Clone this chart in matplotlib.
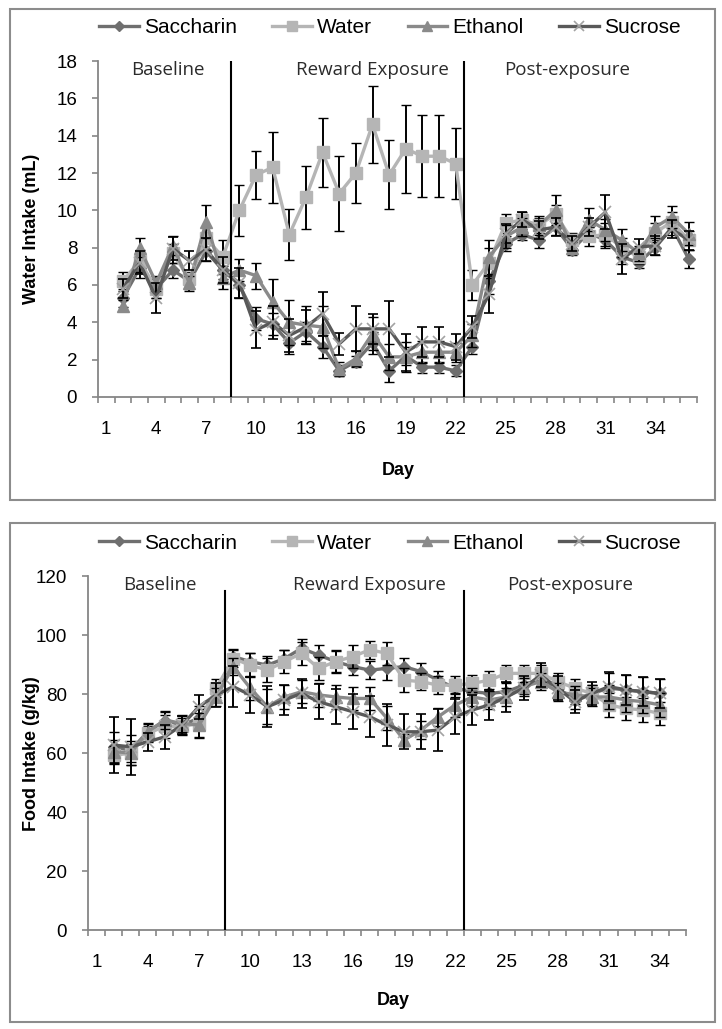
import numpy as np
import matplotlib
matplotlib.use("Agg")
import matplotlib.pyplot as plt
from matplotlib.patches import Rectangle

plt.rcParams['font.family'] = ['Liberation Sans', 'DejaVu Sans']

# --- data: water intake (mL), days 2..36 ---
days_w = np.arange(2, 37)
sac_w = [5.3, 6.9, 5.8, 6.8, 6.2, 7.8, 6.8, 6.0, 4.2, 3.9, 2.9, 3.5, 2.7, 1.4, 1.9,
         2.9, 1.4, 2.2, 1.6, 1.6, 1.4, 2.7, 6.2, 8.2, 8.7, 8.4, 9.1, 7.9, 8.8, 8.4,
         7.5, 7.2, 8.0, 9.1, 7.4]
wat_w = [6.2, 7.3, 5.8, 7.7, 6.3, 8.5, 7.5, 10.0, 11.9, 12.3, 8.7, 10.7, 13.1, 10.9, 12.0,
         14.6, 11.9, 13.3, 12.9, 12.9, 12.5, 6.0, 7.2, 9.3, 9.5, 9.2, 9.8, 8.4, 8.6, 8.7,
         8.0, 7.5, 8.8, 9.4, 8.4]
eth_w = [4.9, 8.0, 6.1, 8.1, 6.1, 9.4, 6.4, 6.8, 6.5, 5.1, 4.0, 3.85, 3.75, 1.5, 2.05,
         3.4, 2.15, 2.15, 2.4, 2.4, 2.4, 3.3, 7.5, 8.6, 9.1, 9.2, 10.0, 8.0, 9.5, 8.95,
         8.4, 7.7, 9.1, 9.65, 8.75]
suc_w = [5.8, 7.2, 5.3, 7.95, 7.3, 7.9, 6.8, 6.1, 3.6, 4.0, 3.3, 3.75, 4.45, 2.85, 3.65,
         3.65, 3.65, 2.4, 2.95, 2.95, 2.7, 3.75, 5.5, 8.75, 9.5, 8.95, 9.1, 8.2, 9.1, 9.9,
         7.4, 8.05, 8.1, 9.0, 8.4]
sac_w_se = [0.5, 0.5, 0.5, 0.4, 0.4, 0.5, 0.5, 0.7, 0.6, 0.6, 0.6, 0.5, 0.6, 0.3, 0.3,
            0.6, 0.6, 0.5, 0.3, 0.3, 0.3, 0.4, 0.7, 0.4, 0.3, 0.4, 0.4, 0.3, 0.3, 0.4,
            0.4, 0.3, 0.4, 0.4, 0.5]
wat_w_se = [0.5, 0.6, 0.5, 0.5, 0.4, 0.6, 0.9, 1.35, 1.3, 1.9, 1.35, 1.7, 1.85, 2.0, 1.6,
            2.05, 1.85, 2.35, 2.2, 2.2, 1.9, 0.8, 0.8, 0.5, 0.4, 0.4, 0.5, 0.4, 0.5, 0.6,
            0.5, 0.4, 0.5, 0.5, 0.5]
eth_w_se = [0.3, 0.5, 0.4, 0.5, 0.4, 0.9, 0.6, 0.6, 0.7, 1.2, 1.2, 1.0, 1.1, 0.4, 0.4,
            0.9, 0.7, 0.8, 0.6, 0.6, 0.5, 0.6, 0.9, 0.6, 0.5, 0.5, 0.8, 0.3, 0.6, 0.6,
            0.6, 0.4, 0.6, 0.6, 0.6]
suc_w_se = [0.5, 0.6, 0.8, 0.6, 0.5, 0.6, 0.7, 0.8, 1.0, 0.9, 0.9, 0.9, 1.2, 0.6, 1.2,
            0.8, 1.5, 1.0, 0.8, 0.8, 0.7, 0.6, 1.0, 0.5, 0.4, 0.5, 0.5, 0.4, 0.5, 0.9,
            0.8, 0.4, 0.5, 0.5, 0.5]

# --- data: food intake (g/kg), days 2..34 ---
days_f = np.arange(2, 35)
sac_f = [62, 61, 67.2, 71, 69.5, 71.8, 80.2, 92.7, 91, 89.8, 92, 95.5, 93.2, 91, 89.3,
         88.1, 88.7, 89.3, 87.6, 84.7, 82, 80.8, 80.2, 80.8, 83, 85.3, 82, 78, 80.2,
         82, 81.4, 80.8, 80.2]
wat_f = [59.3, 59.9, 66.7, 69, 69, 70, 82, 92, 89.8, 88.1, 91, 93.8, 88.7, 91, 92.7,
         95, 93.8, 84.7, 84.2, 83, 83, 83.6, 84.7, 87, 87, 87, 84.2, 82, 80.2,
         76.3, 75.1, 74.6, 73.4]
eth_f = [60.5, 60, 67.2, 71.2, 70, 69.5, 79, 89.3, 82, 75.7, 79, 80.8, 79.7, 79, 78.5,
         78.5, 71.8, 64.4, 67.8, 72.3, 76.3, 79, 78, 79, 82.5, 84.2, 80.8, 79.7, 79,
         79, 78, 77.4, 76.3]
suc_f = [62.7, 62.1, 63.8, 65.5, 69.5, 75.7, 79.7, 82.5, 79.7, 75.7, 78, 80.2, 77.4, 75.7, 74,
         72.3, 69.5, 67.2, 67.2, 67.8, 72.3, 74.6, 76.3, 79, 82, 86.4, 82, 77.4, 80.2,
         82.5, 81.4, 80.8, 80.2]
sac_f_se = [5, 5, 2, 3, 3, 4, 3, 2.5, 3, 3, 3, 3, 3.5, 3.5, 3, 3, 4, 3, 3, 3, 3, 3,
            3, 3, 3, 3, 3, 3, 3, 5, 5, 5, 5]
wat_f_se = [3, 3, 3, 4, 3, 5, 3, 3, 4, 4, 4, 4, 4, 4, 4, 3, 4, 4, 3, 3, 3, 3, 3, 3, 3,
            3, 3, 3, 3, 4, 4, 4, 4]
eth_f_se = [4, 4, 3, 3, 3, 4, 3, 3, 4, 6, 4, 4, 4, 4, 4, 4, 4, 2, 3, 3, 4, 3, 3, 3, 3,
            3, 3, 3, 3, 4, 4, 4, 4]
suc_f_se = [9.5, 9.5, 3, 4, 3, 4, 4, 7, 6, 7, 5, 5, 6, 6, 6, 7, 7, 6, 6, 7, 6, 5, 5, 5,
            4, 4, 4, 4, 4, 5, 5, 5, 5]

names = ["Saccharin", "Water", "Ethanol", "Sucrose"]
phases = ["Baseline", "Reward Exposure", "Post-exposure"]

STYLE = {
    "Saccharin": dict(color="#6f6f6f", marker="D", ms=6.5, mfc="#6f6f6f", mec="#6f6f6f", mew=1),
    "Water":     dict(color="#b5b5b5", marker="s", ms=9, mfc="#b5b5b5", mec="#b5b5b5", mew=1),
    "Ethanol":   dict(color="#8a8a8a", marker="^", ms=9, mfc="#8a8a8a", mec="#8a8a8a", mew=1),
    "Sucrose":   dict(color="#595959", marker="x", ms=9, mfc="none", mec="#a3a3a3", mew=1.2),
}
GRAY = "#868686"


def draw_panel(ax, days, series, errs, ymax, ystep, n_cat, text_y, line_top):
    handles = []
    for i, (nm, vals, se) in enumerate(zip(names, series, errs)):
        st = STYLE[nm]
        cont = ax.errorbar(days, vals, yerr=se, color=st["color"], lw=2.4,
                           marker=st["marker"], ms=st["ms"], mfc=st["mfc"], mec=st["mec"],
                           mew=st["mew"], ecolor="black", elinewidth=1.4, capsize=3.5,
                           capthick=1.6, label=nm, zorder=3 + i)
        handles.append(cont.lines[0])
    ax.set_xlim(0.5, n_cat + 0.5)
    ax.set_ylim(0, ymax)
    ax.set_yticks(np.arange(0, ymax + ystep / 2, ystep))
    ax.set_xticks(np.arange(0.5, n_cat + 1, 1))
    ax.set_xticklabels([])
    ax.set_xticks(np.arange(1, n_cat + 1, 3), minor=True)
    ax.set_xticklabels([str(d) for d in range(1, n_cat + 1, 3)], minor=True)
    ax.tick_params(axis="x", which="major", direction="out", length=4, color=GRAY, width=1.2)
    ax.tick_params(axis="x", which="minor", length=0, pad=17, labelsize=13.5)
    ax.tick_params(axis="y", direction="out", length=4, color=GRAY, width=1.2,
                   pad=11, labelsize=13.5)
    for s in ["top", "right"]:
        ax.spines[s].set_visible(False)
    for s in ["left", "bottom"]:
        ax.spines[s].set_color(GRAY)
        ax.spines[s].set_linewidth(1.3)
    ax.plot([8.5, 8.5], [0, line_top], color="black", lw=1.5, zorder=10)
    ax.plot([22.5, 22.5], [0, line_top], color="black", lw=1.5, zorder=10)
    for x, t in zip([4.7, 17.0, 28.7], phases):
        ax.text(x, text_y, t, ha="center", va="center", fontsize=13.5,
                family="Open Sans", color="#2b2b2b")
    return handles


fig = plt.figure(figsize=(7.22, 10.29), dpi=100)

# panel frames
for y0, h in [(0.5141, 0.4772), (0.0068, 0.4849)]:
    fig.patches.append(Rectangle((0.0139, y0), 0.9765, h, transform=fig.transFigure,
                                 fill=False, edgecolor="#8c8c8c", lw=1.5))

ax1 = fig.add_axes([0.1357, 0.6142, 0.8296, 0.3265])
h1 = draw_panel(ax1, days_w, [sac_w, wat_w, eth_w, suc_w],
                [sac_w_se, wat_w_se, eth_w_se, suc_w_se], 18, 2, 36, 17.5, 18)

ax2 = fig.add_axes([0.1219, 0.0962, 0.828, 0.344])
h2 = draw_panel(ax2, days_f, [sac_f, wat_f, eth_f, suc_f],
                [sac_f_se, wat_f_se, eth_f_se, suc_f_se], 120, 20, 35, 117, 115)

for ax, hs, ly in [(ax1, h1, 0.9728), (ax2, h2, 0.4723)]:
    ax.legend(hs, names, loc="center", bbox_to_anchor=(0.54, ly),
              bbox_transform=fig.transFigure, ncol=4, frameon=False, fontsize=15,
              handlelength=1.9, handletextpad=0.25, columnspacing=1.7, markerscale=0.75)

fig.text(0.043, 0.7775, "Water Intake (mL)", rotation=90, ha="center", va="center",
         fontsize=13, fontweight="bold")
fig.text(0.043, 0.268, "Food Intake (g/kg)", rotation=90, ha="center", va="center",
         fontsize=13, fontweight="bold")
fig.text(0.551, 0.543, "Day", ha="center", va="center", fontsize=13, fontweight="bold")
fig.text(0.544, 0.028, "Day", ha="center", va="center", fontsize=13, fontweight="bold")

fig.savefig("out.png", dpi=100)
